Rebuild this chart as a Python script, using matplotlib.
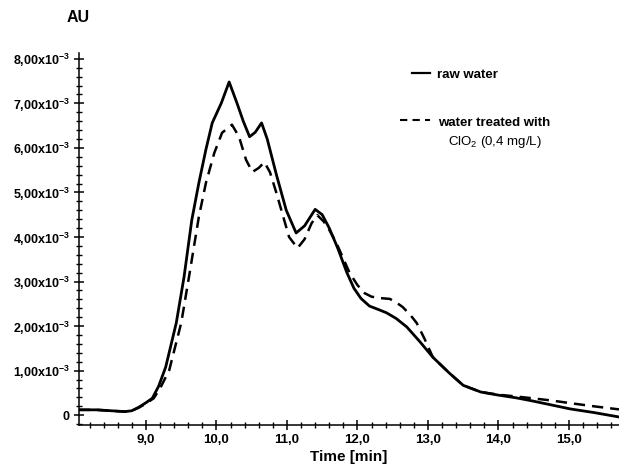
import matplotlib
matplotlib.use("Agg")
import matplotlib.pyplot as plt
from matplotlib.lines import Line2D
from matplotlib.ticker import MultipleLocator, FixedLocator

plt.rcParams['font.family'] = ['Liberation Sans', 'DejaVu Sans']
plt.rcParams['mathtext.fontset'] = 'custom'
plt.rcParams['mathtext.rm'] = 'Liberation Sans'
plt.rcParams['mathtext.bf'] = 'Liberation Sans:bold'

# data (absorbance in units of 1e-3 AU)
t_raw = [8.05, 8.3, 8.5, 8.7, 8.8, 8.9, 9.0, 9.09, 9.18, 9.28, 9.43, 9.54, 9.65, 9.75, 9.85,
         9.94, 10.07, 10.18, 10.29, 10.38, 10.47, 10.55, 10.64, 10.72, 10.85, 10.99, 11.13,
         11.25, 11.40, 11.50, 11.60, 11.72, 11.85, 11.95, 12.05, 12.17, 12.30, 12.41, 12.55,
         12.70, 12.88, 13.07, 13.3, 13.5, 13.75, 14.0, 14.25, 14.48, 14.75, 15.02, 15.35, 15.71]
v_raw = [0.12, 0.12, 0.10, 0.08, 0.1, 0.18, 0.28, 0.38, 0.65, 1.08, 2.07, 3.1, 4.38, 5.21, 5.96,
         6.56, 7.01, 7.48, 7.01, 6.6, 6.25, 6.35, 6.56, 6.2, 5.4, 4.6, 4.09,
         4.25, 4.62, 4.5, 4.2, 3.75, 3.2, 2.85, 2.62, 2.45, 2.37, 2.3, 2.17,
         1.98, 1.66, 1.30, 0.95, 0.67, 0.52, 0.45, 0.39, 0.32, 0.23, 0.14, 0.06, -0.04]

t_clo2 = [8.05, 8.3, 8.5, 8.7, 8.8, 8.9, 9.0, 9.11, 9.2, 9.33, 9.5, 9.61, 9.75, 9.85, 9.97,
          10.08, 10.22, 10.32, 10.42, 10.51, 10.60, 10.68, 10.76, 10.85, 11.03, 11.15, 11.25,
          11.35, 11.43, 11.52, 11.6, 11.7, 11.89, 12.0, 12.1, 12.2, 12.31, 12.46, 12.55, 12.64,
          12.75, 12.84, 12.95, 13.07, 13.3, 13.5, 13.75, 14.0, 14.25, 14.48, 14.75, 15.02,
          15.35, 15.71]
v_clo2 = [0.12, 0.12, 0.10, 0.08, 0.1, 0.17, 0.26, 0.38, 0.6, 1.01, 2.07, 3.1, 4.45, 5.21, 5.89,
          6.34, 6.52, 6.25, 5.73, 5.46, 5.55, 5.68, 5.45, 4.99, 4.0, 3.75, 3.95,
          4.31, 4.49, 4.35, 4.16, 3.87, 3.19, 2.92, 2.74, 2.66, 2.63, 2.61, 2.53, 2.43,
          2.25, 2.07, 1.72, 1.30, 0.95, 0.67, 0.52, 0.46, 0.42, 0.38, 0.33, 0.27,
          0.2, 0.13]

x_ticks = [9, 10, 11, 12, 13, 14, 15]
x_labels = ["9,0", "10,0", "11,0", "12,0", "13,0", "14,0", "15,0"]
y_ticks = [0, 1, 2, 3, 4, 5, 6, 7, 8]
y_labels = ["0"] + [r"%d,00x10$^{\mathbf{-3}}$" % k for k in range(1, 9)]

fig = plt.figure(figsize=(6.19, 4.71), dpi=100)
ax = fig.add_axes([0.1276, 0.0977, 0.8724, 0.7898])

ax.plot(t_raw, v_raw, color='black', lw=2.0, solid_joinstyle='round')
ax.plot(t_clo2, v_clo2, color='black', lw=1.8, dashes=(4.5, 2.8))

ax.set_xlim(8.05, 15.71)
ax.set_ylim(-0.22, 8.13)
for s in ['top', 'right']:
    ax.spines[s].set_visible(False)
for s in ['left', 'bottom']:
    ax.spines[s].set_linewidth(1.1)

ax.xaxis.set_major_locator(FixedLocator(x_ticks))
ax.set_xticklabels(x_labels, fontsize=9.5, fontweight='bold')
ax.xaxis.set_minor_locator(MultipleLocator(0.2))
ax.yaxis.set_major_locator(FixedLocator(y_ticks))
ax.set_yticklabels(y_labels, fontsize=9, fontweight='bold')
ax.yaxis.set_minor_locator(MultipleLocator(0.2))
ax.tick_params(which='major', direction='inout', length=7, width=1.1, pad=3)
ax.tick_params(which='minor', direction='inout', length=4, width=1.0)

ax.set_xlabel("Time [min]", fontsize=11, fontweight='bold', labelpad=3)
fig.text(78 / 619, 1 - 18 / 471, "AU", fontsize=11.5, fontweight='bold', ha='center', va='center')

# legend
fig.add_artist(Line2D([412 / 619, 430 / 619], [1 - 73 / 471] * 2, color='black', lw=1.6))
fig.text(437 / 619, 1 - 75 / 471, "raw water", fontsize=9.5, fontweight='bold', va='center')
fig.add_artist(Line2D([400 / 619, 430 / 619], [1 - 120 / 471] * 2, color='black', lw=1.5, dashes=(3.5, 2.5)))
fig.text(438 / 619, 1 - 123 / 471, "water treated with", fontsize=9.5, fontweight='bold', va='center')
fig.text(448 / 619, 1 - 142 / 471, r"ClO$_2$ (0,4 mg/L)", fontsize=9.5, va='center')

fig.savefig("out.png", dpi=100)
